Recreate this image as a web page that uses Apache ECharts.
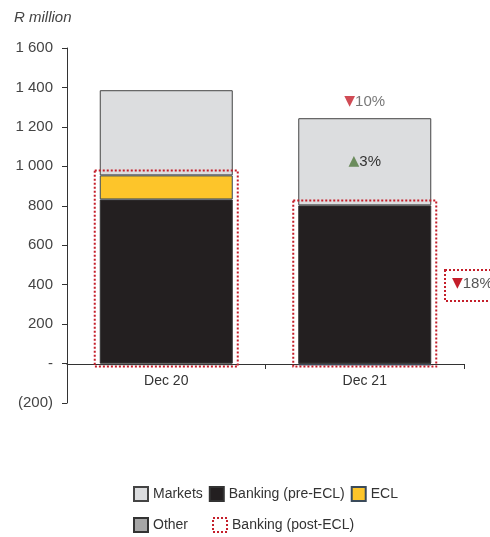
<!DOCTYPE html>
<html>
<head>
<meta charset="utf-8">
<script src="https://cdn.jsdelivr.net/npm/echarts@6/dist/echarts.min.js"></script>
<style>
  html, body { margin: 0; padding: 0; background: #fff; }
  #chart { width: 490px; height: 537px; }
</style>
</head>
<body>
<div id="chart"></div>
<script>
var categories = ["Dec 20", "Dec 21"];
var other = [-8, -3];
var bankingPre = [832, 802];
var ecl = [122, -6];
var markets = [432, 442];
var bankingPost = [954, 802];
var totals = [1386, 1244];
var yTicks = { min: -200, max: 1600, interval: 200 };

var FONT = "'Liberation Sans Narrow', 'Liberation Sans', Arial, sans-serif";
var RED = "#c41e2a";

function fmtY(v) {
  if (v === 0) return "-";
  if (v < 0) return "(" + (-v) + ")";
  return String(v).replace(/\B(?=(\d{3})+(?!\d))/g, " ");
}

var myChart = echarts.init(document.getElementById("chart"));
var option = {
  textStyle: { fontFamily: FONT },
  animation: false,
  grid: { left: 67, right: 26, top: 48, bottom: 134 },
  title: {
    text: "R million",
    left: 9,
    top: 5,
    textStyle: { fontFamily: FONT, fontSize: 15, fontStyle: "italic", fontWeight: "normal", color: "#444" }
  },
  legend: [
    {
      left: 133, top: 486, padding: 0, itemWidth: 14, itemHeight: 14, itemGap: 6,
      textStyle: { fontFamily: FONT, fontSize: 14, color: "#333" },
      data: [
        { name: "Markets", icon: "rect" },
        { name: "Banking (pre-ECL)", icon: "rect" },
        { name: "ECL", icon: "rect" }
      ]
    },
    {
      left: 133, top: 517, padding: 0, itemWidth: 14, itemHeight: 14, itemGap: 24,
      textStyle: { fontFamily: FONT, fontSize: 14, color: "#333" },
      data: [
        { name: "Other", icon: "rect" },
        { name: "Banking (post-ECL)", icon: "rect",
          itemStyle: { color: "#fff", borderColor: RED, borderWidth: 2, borderType: [2, 2] } }
      ]
    }
  ],
  xAxis: {
    type: "category",
    data: categories,
    offset: -39,
    axisLine: { onZero: false, lineStyle: { color: "#333", width: 1 } },
    axisTick: { show: true, length: 5, lineStyle: { color: "#333" } },
    axisLabel: { fontFamily: FONT, fontSize: 14, color: "#333", margin: 10 }
  },
  yAxis: {
    type: "value",
    min: yTicks.min, max: yTicks.max, interval: yTicks.interval,
    axisLine: { show: true, lineStyle: { color: "#333", width: 1 } },
    axisTick: { show: true, length: 5, lineStyle: { color: "#333" } },
    splitLine: { show: false },
    axisLabel: { fontFamily: FONT, fontSize: 15, color: "#444", margin: 14, formatter: fmtY }
  },
  series: [
    {
      name: "Other", type: "bar", stack: "t", barWidth: 133, data: other,
      itemStyle: { color: "#a6a6a6", borderColor: "#333", borderWidth: 1 }
    },
    {
      name: "Banking (pre-ECL)", type: "bar", stack: "t", data: bankingPre,
      itemStyle: { color: "#231f20", borderColor: "#333", borderWidth: 1 }
    },
    {
      name: "ECL", type: "bar", stack: "t", data: ecl,
      itemStyle: { color: "#fdc52a", borderColor: "#3a4a5a", borderWidth: 1 }
    },
    {
      name: "Markets", type: "bar", stack: "t", data: [
        markets[0],
        {
          value: markets[1],
          label: {
            show: true, position: "inside",
            formatter: "{g|▲}{t|3%}",
            rich: {
              g: { color: "#6b8c5c", fontSize: 14, fontFamily: "DejaVu Sans" },
              t: { color: "#333", fontSize: 15, fontFamily: FONT }
            }
          }
        }
      ],
      itemStyle: { color: "#dcdddf", borderColor: "#444", borderWidth: 1 }
    },
    {
      name: "Total", type: "scatter", symbolSize: 0, silent: true,
      data: [
        [1, totals[1]]
      ],
      label: {
        show: true, position: "top", distance: 9,
        formatter: "{r|▼}{t|10%}",
        rich: {
          r: { color: RED, fontSize: 14, fontFamily: "DejaVu Sans" },
          t: { color: "#555", fontSize: 15, fontFamily: FONT }
        }
      }
    },
    {
      name: "Banking (post-ECL)", type: "custom", z: 10, silent: true,
      itemStyle: { color: "#fff", borderColor: RED, borderWidth: 2, borderType: [2, 2] },
      data: categories.map(function (c, i) { return [i, bankingPost[i]]; }),
      renderItem: function (params, api) {
        var top = api.coord([api.value(0), api.value(1)]);
        var bottom = api.coord([api.value(0), 0]);
        var w = 133 + 10;
        return {
          type: "rect",
          shape: { x: top[0] - w / 2, y: top[1] - 5, width: w, height: bottom[1] - top[1] + 8 },
          style: { fill: null, stroke: RED, lineWidth: 2, lineDash: [2, 2] }
        };
      }
    }
  ],
  graphic: [
    {
      type: "rect", left: 444, top: 269,
      shape: { width: 60, height: 31 },
      style: { fill: "#fff", stroke: RED, lineWidth: 2, lineDash: [2, 2] }
    },
    {
      type: "text", left: 452, top: 276,
      style: {
        text: "{r|▼}{t|18%}",
        rich: {
          r: { fill: RED, fontSize: 14, fontFamily: "DejaVu Sans" },
          t: { fill: "#555", fontSize: 15, fontFamily: FONT }
        }
      }
    }
  ]
};
myChart.setOption(option);
window.addEventListener("resize", function () { myChart.resize(); });
</script>
</body>
</html>
